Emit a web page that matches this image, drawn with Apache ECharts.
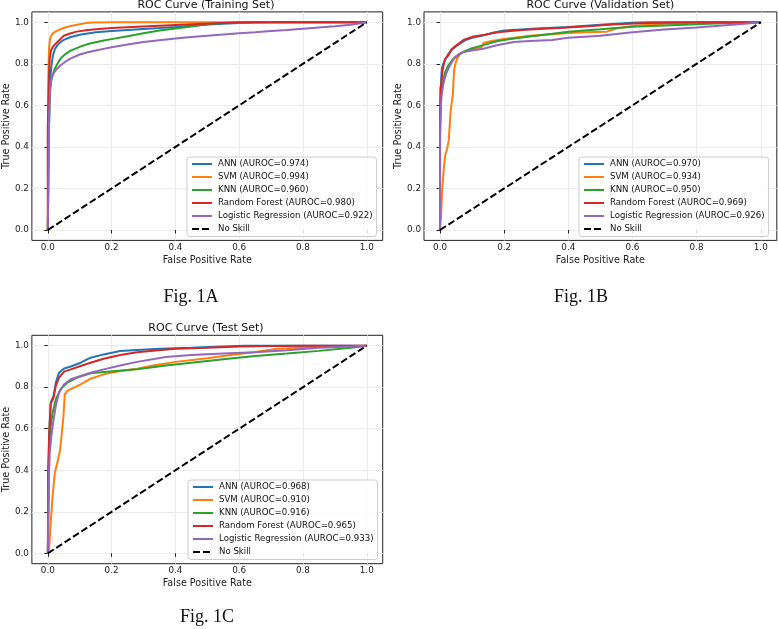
<!DOCTYPE html>
<html>
<head>
<meta charset="utf-8">
<script src="https://cdn.jsdelivr.net/npm/echarts@6/dist/echarts.min.js"></script>
<style>
html,body{margin:0;padding:0;background:#fff;}
#chart{width:778px;height:629px;}
</style>
</head>
<body>
<div id="chart"></div>
<script>
// ---------- data ----------
const modelNames = ['ANN', 'SVM', 'KNN', 'Random Forest', 'Logistic Regression'];
const aurocTrain = ['0.974', '0.994', '0.960', '0.980', '0.922'];
const aurocVal = ['0.970', '0.934', '0.950', '0.969', '0.926'];
const aurocTest = ['0.968', '0.910', '0.916', '0.965', '0.933'];
const tickValues = [0, 0.2, 0.4, 0.6, 0.8, 1.0];
const noSkill = [[0, 0], [1, 1]];

const trainANN = [[0,0],[0.002,0.35],[0.005,0.62],[0.008,0.74],[0.012,0.8],[0.016,0.84],[0.022,0.87],[0.03,0.89],[0.04,0.905],[0.05,0.915],[0.07,0.928],[0.1,0.94],[0.15,0.952],[0.2,0.958],[0.25,0.963],[0.3,0.968],[0.35,0.972],[0.4,0.977],[0.45,0.983],[0.5,0.989],[0.55,0.993],[0.6,0.997],[0.65,0.999],[0.7,1],[1,1]];
const trainSVM = [[0,0],[0,0.45],[0.002,0.78],[0.004,0.88],[0.007,0.92],[0.012,0.94],[0.02,0.952],[0.03,0.96],[0.045,0.97],[0.06,0.977],[0.08,0.985],[0.1,0.991],[0.12,0.996],[0.14,0.999],[0.2,1],[1,1]];
const trainKNN = [[0,0],[0.002,0.3],[0.005,0.6],[0.008,0.69],[0.012,0.73],[0.02,0.77],[0.03,0.8],[0.04,0.825],[0.055,0.847],[0.07,0.862],[0.1,0.882],[0.125,0.895],[0.15,0.904],[0.175,0.912],[0.2,0.919],[0.25,0.933],[0.3,0.947],[0.35,0.96],[0.4,0.97],[0.45,0.98],[0.5,0.99],[0.55,0.997],[0.6,1],[1,1]];
const trainRF = [[0,0],[0,0.5],[0.003,0.72],[0.006,0.83],[0.01,0.865],[0.015,0.88],[0.02,0.89],[0.03,0.905],[0.04,0.92],[0.05,0.935],[0.07,0.946],[0.09,0.955],[0.12,0.962],[0.15,0.967],[0.2,0.972],[0.28,0.978],[0.35,0.983],[0.45,0.99],[0.55,0.996],[0.6,0.999],[0.65,1],[1,1]];
const trainLR = [[0,0],[0.002,0.3],[0.004,0.55],[0.007,0.67],[0.01,0.72],[0.015,0.745],[0.02,0.76],[0.03,0.778],[0.04,0.793],[0.055,0.81],[0.07,0.825],[0.1,0.845],[0.125,0.856],[0.15,0.864],[0.175,0.872],[0.2,0.88],[0.25,0.893],[0.3,0.905],[0.35,0.914],[0.4,0.922],[0.45,0.929],[0.5,0.935],[0.55,0.941],[0.6,0.947],[0.65,0.952],[0.7,0.958],[0.75,0.963],[0.8,0.969],[0.85,0.975],[0.9,0.981],[0.95,0.988],[1,1]];

const valANN = [[0,0],[0,0.45],[0.002,0.62],[0.004,0.74],[0.006,0.78],[0.01,0.8],[0.016,0.82],[0.025,0.845],[0.035,0.865],[0.05,0.885],[0.065,0.9],[0.08,0.915],[0.1,0.925],[0.13,0.935],[0.16,0.948],[0.2,0.96],[0.25,0.965],[0.3,0.97],[0.4,0.977],[0.5,0.988],[0.6,0.998],[0.65,1],[1,1]];
const valSVM = [[0,0],[0.004,0.09],[0.006,0.18],[0.008,0.22],[0.012,0.3],[0.016,0.36],[0.022,0.39],[0.027,0.43],[0.03,0.5],[0.033,0.57],[0.037,0.62],[0.04,0.65],[0.042,0.72],[0.044,0.77],[0.048,0.8],[0.053,0.825],[0.062,0.845],[0.073,0.858],[0.1,0.87],[0.13,0.88],[0.135,0.9],[0.16,0.91],[0.2,0.92],[0.28,0.935],[0.35,0.942],[0.4,0.948],[0.45,0.952],[0.52,0.955],[0.55,0.97],[0.6,0.982],[0.7,0.993],[0.8,0.998],[1,1]];
const valKNN = [[0,0],[0,0.55],[0.003,0.64],[0.008,0.7],[0.012,0.735],[0.016,0.76],[0.026,0.793],[0.042,0.825],[0.06,0.845],[0.073,0.857],[0.1,0.875],[0.135,0.89],[0.18,0.91],[0.22,0.92],[0.28,0.932],[0.35,0.945],[0.4,0.955],[0.5,0.966],[0.6,0.978],[0.7,0.985],[0.8,0.99],[0.9,0.996],[1,1]];
const valRF = [[0,0],[0,0.48],[0.001,0.68],[0.005,0.72],[0.008,0.77],[0.012,0.8],[0.016,0.825],[0.026,0.84],[0.036,0.87],[0.052,0.89],[0.073,0.915],[0.1,0.93],[0.14,0.94],[0.18,0.952],[0.22,0.958],[0.28,0.965],[0.37,0.972],[0.45,0.98],[0.55,0.99],[0.65,0.996],[0.75,0.999],[0.85,1],[1,1]];
const valLR = [[0,0],[0,0.45],[0.002,0.58],[0.005,0.65],[0.01,0.7],[0.019,0.753],[0.031,0.793],[0.047,0.833],[0.06,0.848],[0.073,0.857],[0.104,0.865],[0.135,0.873],[0.177,0.889],[0.23,0.905],[0.28,0.91],[0.35,0.915],[0.4,0.925],[0.5,0.935],[0.6,0.952],[0.7,0.965],[0.8,0.975],[0.9,0.987],[0.95,0.993],[1,1]];

const testANN = [[0,0],[0.002,0.3],[0.004,0.565],[0.009,0.726],[0.018,0.758],[0.025,0.822],[0.035,0.87],[0.051,0.89],[0.072,0.9],[0.103,0.918],[0.134,0.942],[0.175,0.958],[0.227,0.974],[0.28,0.979],[0.35,0.985],[0.45,0.99],[0.55,0.996],[0.62,1],[1,1]];
const testSVM = [[0,0],[0.004,0.02],[0.009,0.148],[0.015,0.276],[0.022,0.388],[0.03,0.437],[0.038,0.493],[0.043,0.565],[0.049,0.661],[0.053,0.766],[0.061,0.782],[0.082,0.798],[0.103,0.814],[0.134,0.841],[0.175,0.862],[0.227,0.878],[0.28,0.889],[0.33,0.905],[0.4,0.922],[0.5,0.94],[0.55,0.95],[0.65,0.97],[0.72,0.985],[0.8,0.99],[0.9,0.996],[1,1]];
const testKNN = [[0,0],[0.003,0.45],[0.006,0.52],[0.009,0.613],[0.015,0.677],[0.025,0.742],[0.04,0.79],[0.061,0.822],[0.092,0.846],[0.134,0.867],[0.175,0.873],[0.28,0.886],[0.37,0.905],[0.45,0.918],[0.55,0.935],[0.65,0.95],[0.75,0.962],[0.85,0.975],[0.95,0.99],[1,1]];
const testRF = [[0,0],[0.001,0.4],[0.004,0.565],[0.009,0.72],[0.018,0.75],[0.025,0.806],[0.035,0.846],[0.051,0.875],[0.072,0.886],[0.103,0.902],[0.134,0.918],[0.175,0.937],[0.227,0.955],[0.28,0.968],[0.33,0.976],[0.4,0.985],[0.5,0.99],[0.6,0.996],[0.7,0.999],[0.8,1],[1,1]];
const testLR = [[0,0],[0.003,0.35],[0.006,0.485],[0.011,0.565],[0.018,0.645],[0.025,0.71],[0.035,0.774],[0.051,0.814],[0.072,0.838],[0.103,0.854],[0.134,0.87],[0.175,0.886],[0.227,0.905],[0.28,0.922],[0.37,0.945],[0.45,0.955],[0.55,0.962],[0.65,0.968],[0.75,0.978],[0.85,0.99],[0.95,0.996],[1,1]];

// ---------- styling / layout ----------
const colors = ['#1f77b4', '#ff7f0e', '#2ca02c', '#d62728', '#9467bd'];
const panels = [
  { title: 'ROC Curve (Training Set)', fig: 'Fig. 1A', auroc: aurocTrain,
    curves: [trainANN, trainSVM, trainKNN, trainRF, trainLR],
    grid: { left: 29.2, top: 11.9, width: 353.5, height: 228.5 },
    legend: { left: 187, top: 157 }, figPos: [191, 297] },
  { title: 'ROC Curve (Validation Set)', fig: 'Fig. 1B', auroc: aurocVal,
    curves: [valANN, valSVM, valKNN, valRF, valLR],
    grid: { left: 424, top: 11.9, width: 352.8, height: 228.5 },
    legend: { left: 579, top: 157 }, figPos: [581, 297] },
  { title: 'ROC Curve (Test Set)', fig: 'Fig. 1C', auroc: aurocTest,
    curves: [testANN, testSVM, testKNN, testRF, testLR],
    grid: { left: 29.2, top: 335.3, width: 353.5, height: 228.4 },
    legend: { left: 188, top: 480 }, figPos: [207, 617] }
];

const sans = 'DejaVu Sans';
const grids = [], xAxes = [], yAxes = [], series = [], legends = [], graphics = [];

panels.forEach((p, i) => {
  grids.push(Object.assign({ show: true, borderColor: '#222', borderWidth: 1, backgroundColor: '#fff', containLabel: false }, p.grid));
  const axisCommon = {
    type: 'value', gridIndex: i, min: -0.05, max: 1.05, splitNumber: 5,
    axisLine: { show: false },
    axisTick: { show: true, customValues: tickValues, length: 3.5, lineStyle: { color: '#222', width: 1 } },
    axisLabel: { customValues: tickValues, formatter: v => v.toFixed(1), color: '#222', fontFamily: sans, fontSize: 8.8, margin: 3 },
    splitLine: { show: true, lineStyle: { color: '#ebebeb', width: 1 } },
    nameLocation: 'middle',
    nameTextStyle: { color: '#222', fontFamily: sans, fontSize: 9.6 }
  };
  xAxes.push(Object.assign({}, axisCommon, { name: 'False Positive Rate', nameGap: 15 }));
  yAxes.push(Object.assign({}, axisCommon, { name: 'True Positive Rate', nameGap: 18 }));

  const names = [];
  p.curves.forEach((c, k) => {
    const nm = modelNames[k] + ' (AUROC=' + p.auroc[k] + ')';
    names.push(nm);
    series.push({
      type: 'line', name: nm, xAxisIndex: i, yAxisIndex: i, data: c,
      symbol: 'none', showSymbol: false, animation: false, clip: true,
      lineStyle: { color: colors[k], width: 2 }, itemStyle: { color: colors[k] }, z: 3 + k
    });
  });
  series.push({
    type: 'line', name: 'No Skill', xAxisIndex: i, yAxisIndex: i, data: noSkill,
    symbol: 'none', showSymbol: false, animation: false,
    lineStyle: { color: '#000', width: 2, type: [7, 3] }, itemStyle: { color: '#000' }, z: 9
  });
  names.push('No Skill');

  legends.push({
    data: names, orient: 'vertical', left: p.legend.left, top: p.legend.top,
    itemWidth: 20, itemHeight: 9, itemGap: 4, padding: [2.5, 4, 3, 4],
    backgroundColor: 'rgba(255,255,255,0.85)', borderColor: '#cccccc', borderWidth: 1, borderRadius: 3,
    itemStyle: { opacity: 0, borderWidth: 0 },
    lineStyle: { width: 2 },
    textStyle: { fontFamily: sans, fontSize: 8.6, color: '#111', padding: [0, 0, 0, 1] },
    selectedMode: false, z: 20
  });

  graphics.push({
    type: 'text', x: p.grid.left + p.grid.width / 2, y: p.grid.top - 6.8,
    style: { text: p.title, fontFamily: sans, fontSize: 11, fill: '#111', align: 'center', verticalAlign: 'middle' }, z: 30
  });
  graphics.push({
    type: 'text', x: p.figPos[0], y: p.figPos[1],
    style: { text: p.fig, fontFamily: 'Liberation Serif', fontSize: 18, fill: '#111', align: 'center', verticalAlign: 'middle' }, z: 30
  });
});

const chart = echarts.init(document.getElementById('chart'), null, { renderer: 'canvas' });
chart.setOption({
  backgroundColor: '#fff',
  animation: false,
  grid: grids, xAxis: xAxes, yAxis: yAxes, series: series, legend: legends, graphic: graphics
});
</script>
</body>
</html>
